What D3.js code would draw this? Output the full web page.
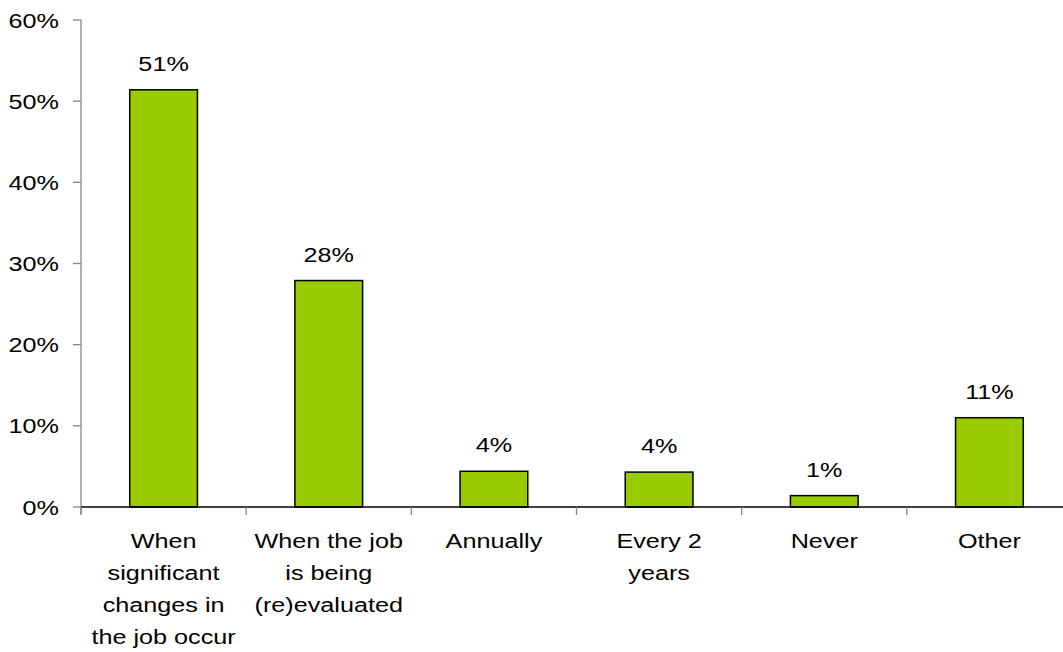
<!DOCTYPE html>
<html>
<head>
<meta charset="utf-8">
<script src="https://cdn.jsdelivr.net/npm/d3@7"></script>
<style>
  html, body { margin: 0; padding: 0; background: #fff; }
  svg { display: block; font-family: Arial, "Liberation Sans", sans-serif; }
</style>
</head>
<body>
<svg id="chart" width="1063" height="652"></svg>
<script>
// Category labels (explicit line breaks) and percentage values
const categories = [
  "When\nsignificant\nchanges in\nthe job occur",
  "When the job\nis being\n(re)evaluated",
  "Annually",
  "Every 2\nyears",
  "Never",
  "Other"
];
const values = [0.514, 0.279, 0.044, 0.043, 0.014, 0.110];
const yTicks = [0, 0.1, 0.2, 0.3, 0.4, 0.5, 0.6];

const svg = d3.select("#chart");
const fontSize = 21;
const stretch = 1.2;          // horizontal widening of all text
const barColor = "#99cc00";

const x = d3.scaleBand().domain(d3.range(categories.length)).range([81, 1072]).padding(0);
const y = d3.scaleLinear().domain([0, 0.6]).range([507, 20]);
const pct = d3.format(".0%");

// place a widened text element anchored at (px, py)
function wideText(sel, px, py, str, anchor) {
  return sel.append("text")
    .attr("transform", `translate(${px},${py}) scale(${stretch},1)`)
    .attr("text-anchor", anchor)
    .attr("font-size", fontSize)
    .attr("fill", "#000")
    .text(str);
}

// Y axis
const yAxis = svg.append("g");
yAxis.append("line")
  .attr("x1", 81).attr("x2", 81)
  .attr("y1", y(0.6)).attr("y2", y(0) + 7)
  .attr("stroke", "#868686").attr("stroke-width", 1.3);
yTicks.forEach(t => {
  yAxis.append("line")
    .attr("x1", 73).attr("x2", 81)
    .attr("y1", y(t)).attr("y2", y(t))
    .attr("stroke", "#868686").attr("stroke-width", 1.3);
  wideText(yAxis, 59, y(t) + 7.5, pct(t), "end");
});

// Bars
const barW = x.bandwidth() * 0.41;
svg.append("g").selectAll("rect")
  .data(values)
  .join("rect")
  .attr("x", (d, i) => x(i) + x.bandwidth() / 2 - barW / 2)
  .attr("y", d => y(d))
  .attr("width", barW)
  .attr("height", d => y(0) - y(d))
  .attr("fill", barColor)
  .attr("stroke", "#000")
  .attr("stroke-width", 1.5);

// Value labels
const labels = svg.append("g");
values.forEach((v, i) => {
  wideText(labels, x(i) + x.bandwidth() / 2, y(v) - 19, pct(v), "middle");
});

// X axis with ticks at category boundaries
const xAxis = svg.append("g");
xAxis.append("line")
  .attr("x1", 81).attr("x2", 1072)
  .attr("y1", y(0)).attr("y2", y(0))
  .attr("stroke", "#000").attr("stroke-width", 1.3);
d3.range(categories.length + 1).forEach(i => {
  const px = i < categories.length ? x(i) : x.range()[1];
  xAxis.append("line")
    .attr("x1", px).attr("x2", px)
    .attr("y1", y(0)).attr("y2", y(0) + 8)
    .attr("stroke", "#868686").attr("stroke-width", 1.3);
});

// Category labels
categories.forEach((c, i) => {
  const cx = x(i) + x.bandwidth() / 2;
  c.split("\n").forEach((line, k) => {
    wideText(xAxis, cx, y(0) + 41 + k * 32, line, "middle");
  });
});
</script>
</body>
</html>
